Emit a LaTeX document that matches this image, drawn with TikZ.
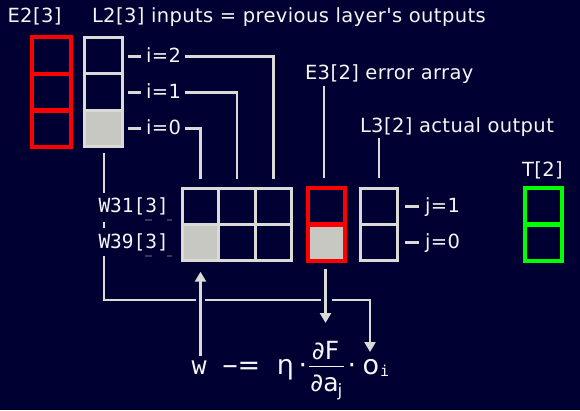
\documentclass[tikz,border=0pt]{standalone}
\usepackage{fontspec}
\setmainfont{DejaVu Sans}
\newfontfamily\sansf[LetterSpace=2.0]{DejaVu Sans}
\newfontfamily\sansplain{DejaVu Sans}
\newfontfamily\monof{DejaVu Sans Mono}
\usetikzlibrary{arrows.meta,calc}
\definecolor{bg}{RGB}{0,0,51}
\definecolor{ln}{RGB}{218,218,214}
\definecolor{fillg}{RGB}{200,200,194}
\definecolor{txt}{RGB}{245,245,245}
\definecolor{redc}{RGB}{255,0,0}
\definecolor{grn}{RGB}{0,255,0}
\newcommand\mylabfont{\sansf\fontsize{19.5}{22}\selectfont}
\newcommand\mywlabfont{\monof\fontsize{19.5}{22}\selectfont}
\newcommand\mybigmono{\monof\fontsize{25}{28}\selectfont}
\newcommand\mybigsans{\sansplain\fontsize{27}{30}\selectfont}
\newcommand\myfracsans{\sansplain\fontsize{25}{28}\selectfont}
\newcommand\mysubsans{\sansplain\fontsize{17}{20}\selectfont}
\newcommand\mysubmono{\monof\fontsize{15}{18}\selectfont}
\begin{document}
\begin{tikzpicture}[x=1pt,y=-1pt,
  every node/.style={inner sep=0pt,outer sep=0pt},
  gcell/.style={draw=ln,line width=2.6pt},
  rcell/.style={draw=redc,line width=4.3pt},
  tcell/.style={draw=grn,line width=4.3pt},
  lab/.style={text=txt,font=\mylabfont,text height=11pt,text depth=0pt,anchor=base west},
  wlab/.style={text=txt,font=\mywlabfont,anchor=base west,fill=bg,inner xsep=1pt,inner ysep=2pt},
  conn/.style={draw=ln,line width=2.8pt},
  arr/.style={conn,-{Triangle[width=11pt,length=10pt]}},
  fm/.style={text=txt,anchor=base},
]
\fill[bg] (0,0) rectangle (580,410);
\useasboundingbox (0,0) rectangle (580,410);

% E2 column (red)
\node[rcell,minimum width=38.7pt,minimum height=36.7pt] (e2a) at (51.35,55.3) {};
\node[rcell,minimum width=38.7pt,minimum height=36.7pt] (e2b) at (51.35,92) {};
\node[rcell,minimum width=38.7pt,minimum height=36.7pt] (e2c) at (51.35,128.7) {};

% L2 column
\node[gcell,minimum width=38.5pt,minimum height=36.5pt] (l2a) at (103.5,55.5) {};
\node[gcell,minimum width=38.5pt,minimum height=36.5pt] (l2b) at (103.5,92) {};
\node[gcell,fill=fillg,minimum width=38.5pt,minimum height=36.5pt] (l2c) at (103.5,128.5) {};

% W matrix
\node[gcell,minimum width=36.5pt,minimum height=36.25pt] (w10) at (200.5,206.4) {};
\node[gcell,minimum width=36.5pt,minimum height=36.25pt] (w11) at (237,206.4) {};
\node[gcell,minimum width=36.5pt,minimum height=36.25pt] (w12) at (273.5,206.4) {};
\node[gcell,fill=fillg,minimum width=36.5pt,minimum height=36.25pt] (w00) at (200.5,242.6) {};
\node[gcell,minimum width=36.5pt,minimum height=36.25pt] (w01) at (237,242.6) {};
\node[gcell,minimum width=36.5pt,minimum height=36.25pt] (w02) at (273.5,242.6) {};

% E3 column (red)
\node[rcell,minimum width=37pt,minimum height=36.5pt] (e3a) at (326.5,206.25) {};
\node[rcell,fill=fillg,minimum width=37pt,minimum height=36.5pt] (e3b) at (326.5,242.75) {};

% L3 column
\node[gcell,minimum width=37.5pt,minimum height=36.25pt] (l3a) at (379,206.4) {};
\node[gcell,minimum width=37.5pt,minimum height=36.25pt] (l3b) at (379,242.6) {};

% T column (green)
\node[tcell,minimum width=37pt,minimum height=36.5pt] (ta) at (543.5,206.25) {};
\node[tcell,minimum width=37pt,minimum height=36.5pt] (tb) at (543.5,242.75) {};

% labels
\node[lab] (e2lab) at (7.5,22) {E2[3]};
\node[lab] (l2lab) at (92,22) {L2[3] inputs = previous layer's outputs};
\node[lab] (e3lab) at (305,79) {E3[2] error array};
\node[lab] (l3lab) at (360,132) {L3[2] actual output};
\node[lab] (tlab) at (522,176) {T[2]};
\node[lab] (i2) at (146.2,62) {i=2};
\node[lab] (i1) at (146.2,98) {i=1};
\node[lab] (i0) at (146.2,134) {i=0};
\node[lab] (j1) at (425,212) {j=1};
\node[lab] (j0) at (425,248) {j=0};

% connectors from i labels to W columns
\coordinate (t2) at ($(w12.north)+(0,-9)$);
\coordinate (t1) at ($(w11.north)+(0,-9)$);
\coordinate (t0) at ($(w10.north)+(0,-9)$);
\draw[conn] ([xshift=4pt]i2.east) -| (t2);
\draw[conn] ([xshift=4pt]i1.east) -| (t1);
\draw[conn] ([xshift=4pt]i0.east) -| (t0);
\draw[conn] ([xshift=-5pt]i2.west) -- ++(-13,0);
\draw[conn] ([xshift=-5pt]i1.west) -- ++(-13,0);
\draw[conn] ([xshift=-5pt]i0.west) -- ++(-13,0);
\draw[conn] ([xshift=-6pt]j1.west) -- ++(-14,0);
\draw[conn] ([xshift=-6pt]j0.west) -- ++(-14,0);

% label leaders
\draw[conn] ($(e3lab.base west)+(19,7)$) -- ($(e3a.north)+(-2.5,-10)$);
\draw[conn] ($(l3lab.base west)+(19,6)$) -- ($(l3a.north)+(0,-10)$);

% formula
\node[fm,font=\mybigmono] (w) at (199.2,374.3) {w};
\node[fm,font=\mybigsans] (mq) at (241.5,374.3) {{\mybigmono −}=};
\node[fm,font=\mybigsans] (eta) at (285.5,374.3) {η};
\node[fm,font=\mybigsans] (d1) at (303,374.3) {·};
\node[fm,font=\myfracsans] (num) at (325.5,359) {∂F};
\node[fm,font=\myfracsans] (den) at (324.5,391.7) {∂a};
\node[fm,font=\mysubsans,anchor=base west] (sj) at (337.5,396) {j};
\draw[txt,line width=1.5pt] ($(num.base)+(-16.5,7.7)$) -- ++(35,0);
\node[fm,font=\mybigsans] (d2) at (352,374.3) {·};
\node[fm,font=\mybigsans] (o) at (370.8,374.3) {o};
\node[fm,font=\mysubmono,anchor=base west] (si) at (380,376.7) {i};

% W labels (mask the line behind)
\draw[conn] ($(l2c.south)+(0.5,6)$) -- ($(l2c.south)+(0.5,60)$);
\coordinate (hr) at (370,300);
\coordinate (otip) at (370,352);
\draw[arr] ($(l2c.south)+(0.5,50)$) |- (hr) -- (otip);
\node[wlab,text height=18pt,text depth=7pt] (w31) at (97.5,212.7) {W31[3]};
\node[wlab,text height=18pt,text depth=6pt] (w39) at (97.5,248) {W39[3]};
\draw[gray!45!bg,line width=1.2pt] (145,220) -- (152,220) (167,220) -- (172,220)
  (145,256) -- (152,256) (167,256) -- (172,256);

% crossing gaps
\draw[draw=bg,line width=9pt] ($(w00.south |- hr)+(0,-4)$) -- ++(0,8);
\draw[draw=bg,line width=11pt] ($(e3b.south |- hr)+(-0.5,-4)$) -- ++(0,8);

% vertical arrows
\draw[arr] ($(w00.south |- w.north)+(0,-5)$) -- ($(w00.south)+(0,11)$);
\draw[arr] ($(e3b.south)+(-1,8)$) -- ($(e3b.south)+(-1,62)$);
\end{tikzpicture}
\end{document}
